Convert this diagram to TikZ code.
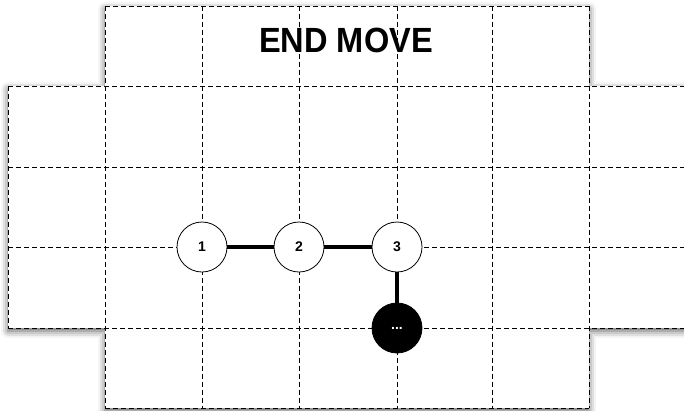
\documentclass[tikz,border=0pt]{standalone}
\usepackage{fontspec}
\setmainfont{Liberation Sans}
\usetikzlibrary{shadows.blur}
\tikzset{
  gridline/.style={draw=black, line width=0.7pt, dash pattern=on 5pt off 3pt},
  board/.style={fill=white, blur shadow={shadow xshift=0pt, shadow yshift=-3pt, shadow blur radius=7pt, shadow opacity=65}},
  cell/.style={circle, draw=black, line width=0.8pt, fill=white, minimum size=50pt, inner sep=0pt, font=\bfseries\fontsize{14}{14}\selectfont},
  headcell/.style={cell, fill=black, text=white},
  link/.style={line width=3.5pt, black}
}
\begin{document}
\begin{tikzpicture}[x=1pt, y=-1pt]
  \useasboundingbox (0,0) rectangle (684,410);
  \clip (0,0) rectangle (684,410);
  % cross-shaped board with soft shadow
  \path[board] (105,6) -- (589,6) -- (589,86) -- (720,86) -- (720,328) -- (589,328)
    -- (589,408) -- (105,408) -- (105,328) -- (8,328) -- (8,86) -- (105,86) -- cycle;
  % outer edges not covered by the full grid lines
  \draw[gridline] (105,6) -- (589,6);
  \draw[gridline] (105,408) -- (589,408);
  \draw[gridline] (8,86) -- (8,328);
  % horizontal grid lines
  \foreach \y in {86,167,247,328} \draw[gridline] (8,\y) -- (720,\y);
  % vertical grid lines
  \foreach \x in {105,202,299,397,492,589} \draw[gridline] (\x,6) -- (\x,408);
  % title
  \node[font=\bfseries\fontsize{35}{35}\selectfont, xscale=0.93] (title) at (346,40.5) {END MOVE};
  % snake cells
  \node[cell] (c1) at (202,247) {1};
  \node[cell] (c2) at (299,247) {2};
  \node[cell] (c3) at (397,247) {3};
  \node[headcell] (c4) at (397,328) {...};
  \draw[link] (c1) -- (c2);
  \draw[link] (c2) -- (c3);
  \draw[link] (c3) -- (c4);
\end{tikzpicture}
\end{document}
